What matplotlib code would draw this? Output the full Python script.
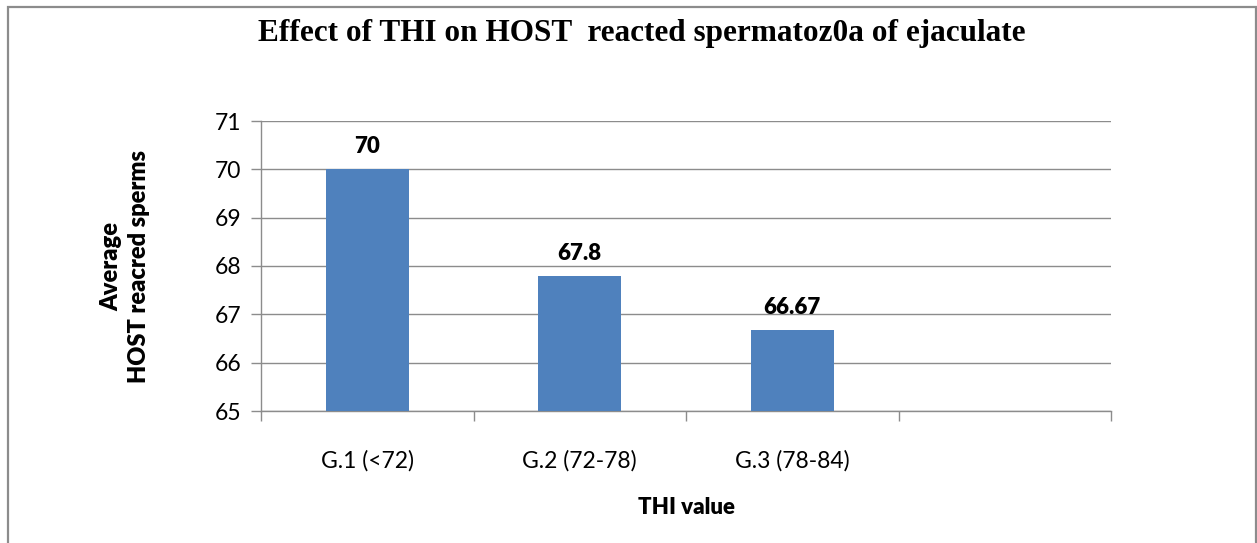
import numpy as np
import matplotlib.pyplot as plt
from matplotlib.patches import Rectangle

# data
groups = ["G.1 (<72)", "G.2 (72-78)", "G.3 (78-84)", ""]
values = [70, 67.8, 66.67]
labels = ["70", "67.8", "66.67"]
yticks = [65, 66, 67, 68, 69, 70, 71]

W, H = 1257, 543
fig = plt.figure(figsize=(W/100, H/100), dpi=100)
ax = fig.add_axes([261/W, 1-411/H, 850/W, 290/H])

# outer chart frame
fig.patches.append(Rectangle((8/W, -0.1), (1256-8)/W, 1.1-7/H,
                             transform=fig.transFigure, fill=False,
                             edgecolor="#8c8c8c", linewidth=1.6))

x = np.arange(len(values))
ax.bar(x, values, width=0.39, color="#4f81bd", zorder=3, bottom=0)
ax.set_xlim(-0.5, len(groups)-0.5)
ax.set_ylim(65, 71)
ax.set_yticks(yticks)
ax.set_yticklabels([str(t) for t in yticks], family="Lato", fontsize=16.5)
ax.yaxis.grid(True, color="#8c8c8c", linewidth=1.0, zorder=0)

# category ticks at boundaries, labels at centres
ax.set_xticks(np.arange(len(groups)+1)-0.5)
ax.set_xticklabels([])
ax.set_xticks(np.arange(len(groups)), minor=True)
ax.set_xticklabels(groups, minor=True, family="Lato", fontsize=16.5)
ax.tick_params(axis="x", which="major", length=7, color="#8c8c8c", width=1)
ax.tick_params(axis="x", which="minor", length=0, pad=28)
ax.tick_params(axis="y", length=7, color="#8c8c8c", width=1, pad=7)

for s in ["top", "right"]:
    ax.spines[s].set_visible(False)
for s in ["left", "bottom"]:
    ax.spines[s].set_color("#8c8c8c")
    ax.spines[s].set_linewidth(1.0)

for xi, v, lab in zip(x, values, labels):
    ax.text(xi, v + 0.25, lab, ha="center", va="bottom", family="Lato",
            fontweight="heavy", fontsize=16)

fig.text(642/W, 1-33/H, "Effect of THI on HOST  reacted spermatoz0a of ejaculate",
         ha="center", va="center", family="Liberation Serif",
         fontweight="bold", fontsize=22.5)
fig.text(686/W, 1-508/H, "THI value", ha="center", va="center", family="Lato",
         fontweight="heavy", fontsize=16)
fig.text(125/W, 1-266/H, "Average\nHOST reacred sperms", ha="center", va="center",
         rotation=90, family="Lato", fontweight="heavy", fontsize=17,
         linespacing=1.35)

fig.savefig("out.png", dpi=100)
